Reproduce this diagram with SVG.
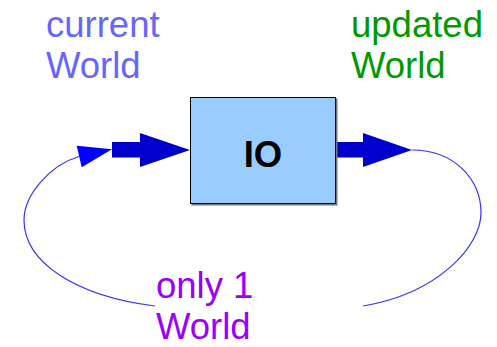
<svg xmlns="http://www.w3.org/2000/svg" width="497" height="347" viewBox="0 0 497 347">
<style>
text{font-family:"Liberation Sans",Arial,sans-serif;font-size:36.5px}
.curve{fill:none;stroke:#3333ff;stroke-width:1.2}
.blk{fill:#0000cc}
</style>
<rect width="497" height="347" fill="#fff"/>
<g id="connectors">
<path class="curve" d="M155,306 C75,296 24,262 24,220 C24,195 50,165 79,156.5"/>
<polygon fill="#0000ff" points="112,149.3 76.7,145.7 81.7,167.3"/>
<path class="curve" d="M412,150 C455,150 481,180 481,213 C481,245 440,293 363,306"/>
<polygon class="blk" points="112,142 140,142 140,133 190,150 140,167 140,157.5 112,157.5"/>
<polygon class="blk" points="336,142 363,142 363,133 412,150 363,167 363,157.5 336,157.5"/>
</g>
<g id="io">
<rect x="191.5" y="98.5" width="146" height="107" fill="#777"/>
<rect x="190.5" y="97.5" width="145" height="106" fill="#99ccff" stroke="#000" stroke-width="1"/>
<text x="263" y="167" text-anchor="middle" font-weight="bold" font-size="36">IO</text>
</g>
<g id="current">
<text x="46" y="37" fill="#6666ff">current</text>
<text x="46" y="78" fill="#6666ff">World</text>
</g>
<g id="updated">
<text x="351" y="37" fill="#009900">updated</text>
<text x="351" y="78" fill="#009900">World</text>
</g>
<g id="only">
<text x="156" y="298" fill="#9900ff">only 1</text>
<text x="156" y="339" fill="#9900ff">World</text>
</g>
</svg>
